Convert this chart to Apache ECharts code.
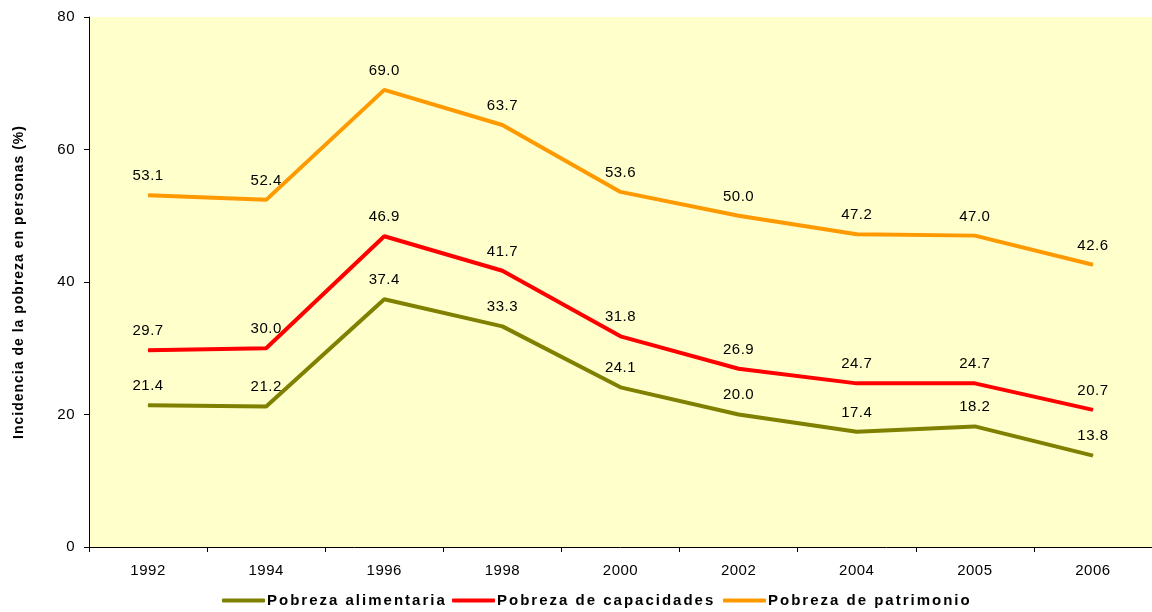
<!DOCTYPE html>
<html>
<head>
<meta charset="utf-8">
<script src="https://cdn.jsdelivr.net/npm/echarts@6/dist/echarts.min.js"></script>
<style>html,body{margin:0;padding:0;background:#fff;}#c{width:1152px;height:612px;}</style>
</head>
<body>
<div id="c"></div>
<script>
var years = ['1992','1994','1996','1998','2000','2002','2004','2005','2006'];
var alimentaria = [21.4, 21.2, 37.4, 33.3, 24.1, 20.0, 17.4, 18.2, 13.8];
var capacidades = [29.7, 30.0, 46.9, 41.7, 31.8, 26.9, 24.7, 24.7, 20.7];
var patrimonio = [53.1, 52.4, 69.0, 63.7, 53.6, 50.0, 47.2, 47.0, 42.6];
var seriesNames = ['Pobreza alimentaria', 'Pobreza de capacidades', 'Pobreza de patrimonio'];
var colors = ['#808000', '#FF0000', '#FF9900'];
var FONT = '"Liberation Sans", Arial, sans-serif';

// Emulate the spaced-out text rendering of the original (letter spacing on canvas text)
(function () {
  var proto = CanvasRenderingContext2D.prototype;
  var desc = Object.getOwnPropertyDescriptor(proto, 'font');
  if (!desc || !('letterSpacing' in proto)) return;
  Object.defineProperty(proto, 'font', {
    configurable: true,
    get: desc.get,
    set: function (v) {
      desc.set.call(this, v);
      var s = '0.5px';
      if (/bold/.test(v)) s = /15px/.test(v) ? '2px' : '1px';
      this.letterSpacing = s;
    }
  });
})();

function mk(name, data, color) {
  return {
    name: name, type: 'line', data: data, symbol: 'circle', symbolSize: 1, color: color,
    itemStyle: { color: color },
    lineStyle: { width: 4, color: color },
    label: { show: true, position: 'top', distance: 11, color: '#000', fontFamily: FONT, fontSize: 15,
      formatter: function (p) { return p.value.toFixed(1); } },
    emphasis: { disabled: true },
    z: 3
  };
}

function lg(name, left) {
  return {
    top: 592, left: left, padding: 0, itemWidth: 43, itemHeight: 4, icon: 'roundRect',
    textStyle: { fontFamily: FONT, fontSize: 15, fontWeight: 'bold', color: '#000', padding: [0,0,0,-3] },
    data: [name], selectedMode: false
  };
}

var chart = echarts.init(document.getElementById('c'), null, { renderer: 'canvas' });
chart.setOption({
  animation: false,
  textStyle: { fontFamily: FONT },
  grid: { left: 89, top: 17, width: 1066, height: 530, show: true, backgroundColor: '#FFFFCC', borderWidth: 0, containLabel: false },
  legend: [lg(seriesNames[0], 222), lg(seriesNames[1], 452), lg(seriesNames[2], 723)],
  xAxis: {
    type: 'category', data: years, boundaryGap: true,
    axisLine: { lineStyle: { color: '#000', width: 1 } },
    axisTick: { show: true, alignWithLabel: false, length: 5, inside: false, lineStyle: { color: '#000' } },
    axisLabel: { color: '#000', fontSize: 15, margin: 16, fontFamily: FONT },
    splitLine: { show: false }
  },
  yAxis: {
    type: 'value', min: 0, max: 80, interval: 20,
    name: 'Incidencia de la pobreza en personas (%)', nameLocation: 'middle', nameGap: 62,
    nameTextStyle: { color: '#000', fontSize: 14, fontWeight: 'bold', fontFamily: FONT },
    axisLine: { show: true, lineStyle: { color: '#000', width: 1 } },
    axisTick: { show: true, length: 5, lineStyle: { color: '#000' } },
    axisLabel: { color: '#000', fontSize: 15, margin: 14, fontFamily: FONT },
    splitLine: { show: false }
  },
  series: [
    mk(seriesNames[0], alimentaria, colors[0]),
    mk(seriesNames[1], capacidades, colors[1]),
    mk(seriesNames[2], patrimonio, colors[2])
  ]
});
</script>
</body>
</html>
